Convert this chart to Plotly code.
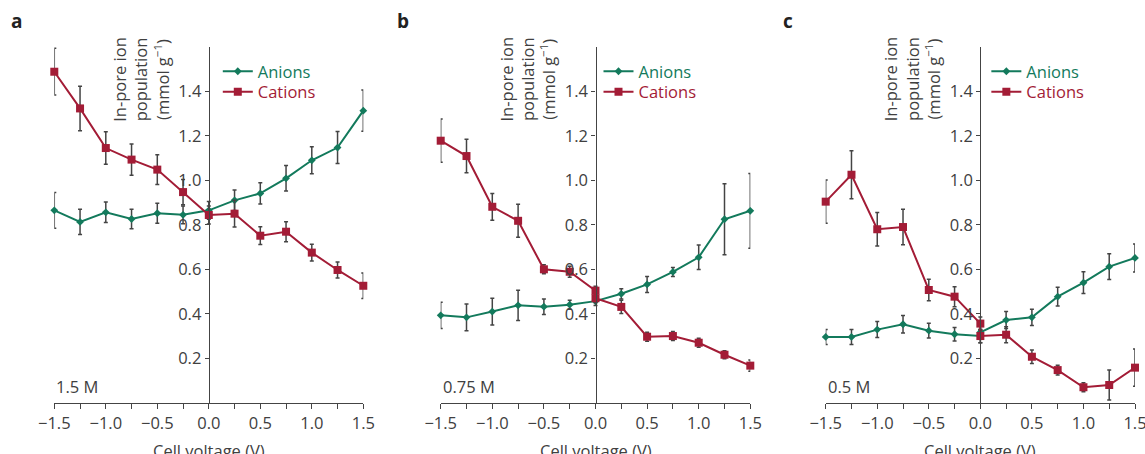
import plotly.graph_objects as go

# ---------------- data ----------------
V13 = [-1.5, -1.25, -1.0, -0.75, -0.5, -0.25, 0.0, 0.25, 0.5, 0.75, 1.0, 1.25, 1.5]
V14 = [-1.5, -1.25, -1.0, -0.75, -0.5, -0.25, 0.0, 0.0, 0.25, 0.5, 0.75, 1.0, 1.25, 1.5]

# panel a : 1.5 M
anions_a = [0.865, 0.813, 0.856, 0.826, 0.852, 0.845, 0.865, 0.910, 0.941, 1.009, 1.090, 1.147, 1.313]
anions_a_err = [0.080, 0.057, 0.046, 0.044, 0.045, 0.040, 0.040, 0.046, 0.048, 0.057, 0.061, 0.072, 0.093]
cations_a = [1.488, 1.323, 1.145, 1.093, 1.048, 0.947, 0.844, 0.850, 0.751, 0.769, 0.675, 0.597, 0.526]
cations_a_err = [0.105, 0.100, 0.073, 0.070, 0.067, 0.057, 0.040, 0.060, 0.040, 0.045, 0.038, 0.036, 0.057]

# panel b : 0.75 M
anions_b = [0.393, 0.384, 0.410, 0.438, 0.432, 0.441, 0.457, 0.490, 0.532, 0.588, 0.654, 0.825, 0.863]
anions_b_err = [0.059, 0.060, 0.060, 0.068, 0.035, 0.020, 0.020, 0.023, 0.036, 0.020, 0.055, 0.160, 0.168]
cations_b = [1.178, 1.109, 0.881, 0.818, 0.600, 0.589, 0.504, 0.470, 0.431, 0.297, 0.300, 0.270, 0.216, 0.167]
cations_b_err = [0.097, 0.075, 0.060, 0.074, 0.020, 0.025, 0.020, 0.020, 0.030, 0.020, 0.020, 0.020, 0.018, 0.025]

# panel c : 0.5 M
anions_c = [0.296, 0.296, 0.329, 0.353, 0.324, 0.308, 0.300, 0.317, 0.372, 0.384, 0.477, 0.540, 0.612, 0.651]
anions_c_err = [0.034, 0.034, 0.036, 0.039, 0.033, 0.030, 0.030, 0.030, 0.038, 0.037, 0.042, 0.049, 0.058, 0.063]
cations_c = [0.904, 1.025, 0.780, 0.790, 0.507, 0.477, 0.356, 0.300, 0.306, 0.207, 0.147, 0.070, 0.080, 0.158]
cations_c_err = [0.097, 0.108, 0.075, 0.080, 0.048, 0.045, 0.030, 0.030, 0.036, 0.030, 0.022, 0.020, 0.067, 0.084]

PANEL_LETTERS = ["a", "b", "c"]
CONCENTRATIONS = ["1.5 M", "0.75 M", "0.5 M"]
SERIES_NAMES = ["Anions", "Cations"]
X_TICKS = [-1.5, -1.0, -0.5, 0.0, 0.5, 1.0, 1.5]
X_TICK_TEXT = ["\u22121.5", "\u22121.0", "\u22120.5", "0.0", "0.5", "1.0", "1.5"]
Y_TICKS = [0.2, 0.4, 0.6, 0.8, 1.0, 1.2, 1.4]
Y_TICK_TEXT = ["0.2", "0.4", "0.6", "0.8", "1.0", "1.2", "1.4"]
X_TITLE = "Cell voltage (V)"
Y_TITLE = "In-pore ion<br>population<br>(mmol g<sup>\u22121</sup>)"

panels = [
    (V13, anions_a, anions_a_err, V13, cations_a, cations_a_err),
    (V13, anions_b, anions_b_err, V14, cations_b, cations_b_err),
    (V14, anions_c, anions_c_err, V14, cations_c, cations_c_err),
]

# ---------------- style ----------------
W, H = 1145, 454
GREEN = "#137a5c"
RED = "#a31c36"
ERR = "#444444"
AXC = "#444444"
TXT = "#404040"
FONT = "Open Sans"
FW = 400
FS = 16.5

# pixel geometry of each panel (left px, right px)
px_dom = [(54.3, 363.3), (440.7, 750.3), (825.7, 1135.0)]
y_bottom_px, y_top_px = 402.8, 46.8
legend_text_off = [51, 45, 48]  # px from y-axis to legend text

def tf(size=FS, color=TXT, weight=FW):
    return dict(family=FONT, size=size, color=color, weight=weight)

fig = go.Figure()

def fx(p):
    return p / W

def fy(p):
    return (H - p) / H

for i, (xa, ya, ea, xc, yc, ec) in enumerate(panels):
    n = "" if i == 0 else str(i + 1)
    xref, yref = "x" + n, "y" + n
    lg_a = "legend" if i == 0 else "legend" + str(2 * i + 1)
    lg_c = "legend" + str(2 * i + 2)
    fig.add_trace(go.Scatter(
        x=xa, y=ya, mode="lines+markers", name=SERIES_NAMES[0],
        xaxis=xref, yaxis=yref, legend=lg_a, cliponaxis=False,
        line=dict(color=GREEN, width=2),
        marker=dict(symbol="diamond", size=6, color=GREEN),
        error_y=dict(type="data", array=ea, color=ERR, thickness=1.5, width=2),
    ))
    fig.add_trace(go.Scatter(
        x=xc, y=yc, mode="lines+markers", name=SERIES_NAMES[1],
        xaxis=xref, yaxis=yref, legend=lg_c, cliponaxis=False,
        line=dict(color=RED, width=2),
        marker=dict(symbol="square", size=8, color=RED),
        error_y=dict(type="data", array=ec, color=ERR, thickness=1.5, width=2),
    ))

    l, r = px_dom[i]
    mid = (l + r) / 2
    fig.layout["xaxis" + n] = dict(
        domain=[fx(l), fx(r)], anchor=yref, range=[-1.5, 1.5],
        showline=True, linecolor=AXC, linewidth=1.3, showgrid=False, zeroline=False,
        ticks="outside", ticklen=5, tickwidth=1.3, tickcolor=AXC,
        tickvals=X_TICKS, ticktext=X_TICK_TEXT, ticklabeloverflow="allow",
        minor=dict(dtick=0.25, tick0=-1.5, ticks="outside", ticklen=5, tickwidth=1.3, tickcolor=AXC, showgrid=False),
        tickfont=tf(),
        automargin=False, fixedrange=True,
    )
    fig.layout["yaxis" + n] = dict(
        domain=[fy(y_bottom_px), fy(y_top_px)], anchor="free", position=fx(mid),
        range=[0, 1.6], showline=True, linecolor=AXC, linewidth=1.3,
        showgrid=False, zeroline=False,
        ticks="outside", ticklen=4, tickwidth=1.3, tickcolor=AXC,
        tickvals=Y_TICKS, ticktext=Y_TICK_TEXT,
        tickfont=tf(),
        automargin=False, fixedrange=True,
    )
    # legends (one per series so each takes its series colour)
    lx = fx(mid + legend_text_off[i] - 42)
    common = dict(x=lx, xanchor="left", yanchor="middle", bgcolor="rgba(0,0,0,0)",
                  borderwidth=0, itemwidth=30, tracegroupgap=0)
    fig.layout[lg_a] = dict(y=fy(71.5), font=tf(color=GREEN), **common)
    fig.layout[lg_c] = dict(y=fy(92), font=tf(color=RED), **common)

    # panel letter
    fig.add_annotation(xref="paper", yref="paper", x=fx(l - 38), y=fy(21),
                       text="<b>" + PANEL_LETTERS[i] + "</b>", showarrow=False,
                       xanchor="center", yanchor="middle",
                       font=tf(size=19, color="#222222", weight=700))
    # y title
    fig.add_annotation(xref="paper", yref="paper", x=fx(mid - 68), y=fy(79),
                       text=Y_TITLE, showarrow=False, textangle=-90,
                       xanchor="center", yanchor="middle",
                       font=tf())
    # x title (placed like the reference, partly cut at the bottom edge)
    fig.add_annotation(xref="paper", yref="paper", x=fx(mid), y=fy(437),
                       text=X_TITLE, showarrow=False,
                       xanchor="center", yanchor="top",
                       font=tf())
    # concentration label
    fig.add_annotation(xref=xref, yref=yref, x=-1.5, y=0.075, text=CONCENTRATIONS[i],
                       showarrow=False, xanchor="left", yanchor="middle",
                       font=tf())

fig.update_layout(
    width=W, height=H, autosize=False,
    margin=dict(l=0, r=0, t=0, b=0),
    paper_bgcolor="white", plot_bgcolor="white",
    font=tf(),
    showlegend=True,
)

fig.write_html(
    "out.html",
    config={"displayModeBar": False},
    post_script="document.body.style.margin='0px';document.body.style.overflow='hidden';",
)
